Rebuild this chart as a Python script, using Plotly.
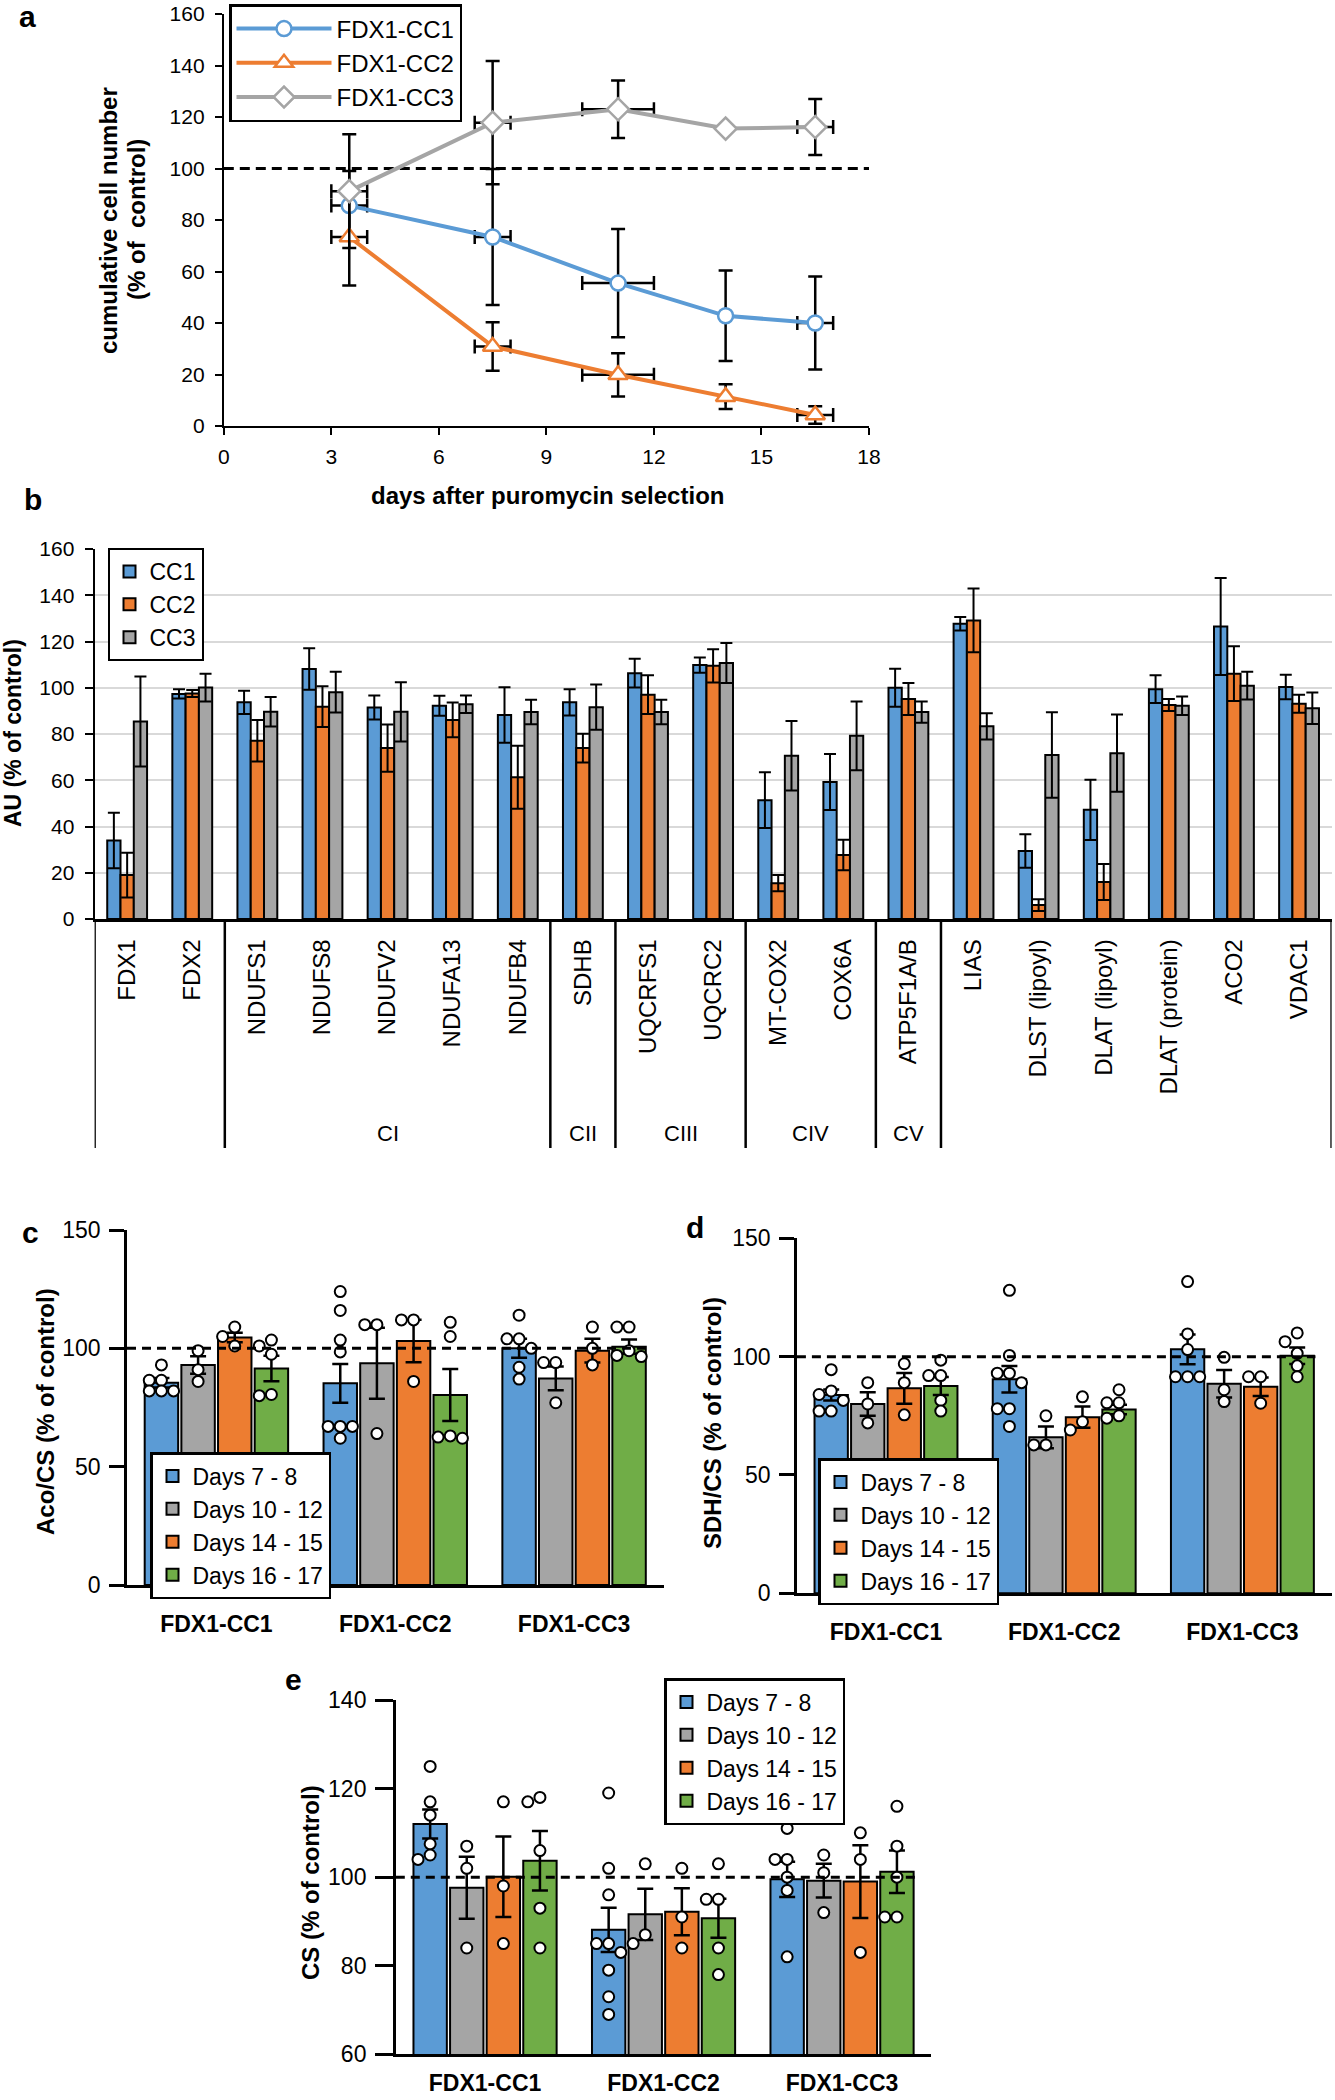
import plotly.graph_objects as go

W, H = 1335, 2100
FONT = "Liberation Sans, Arial, Helvetica, sans-serif"
BLUE, ORANGE, GRAY, GREEN = "#5B9BD5", "#ED7D31", "#A5A5A5", "#70AD47"

# ---------------- Panel a: cumulative cell number ----------------
days = [3.5, 7.5, 11, 14, 16.5]
days_err = [0.5, 0.5, 1.0, 0.0, 0.5]
a_names = ["FDX1-CC1", "FDX1-CC2", "FDX1-CC3"]
a_cc1 = [85.6, 73.4, 55.5, 42.8, 40.0]
a_cc1_err = [13.4, 26.4, 21.0, 17.6, 18.1]
a_cc2 = [73.4, 30.9, 19.9, 11.4, 4.3]
a_cc2_err = [18.8, 9.4, 8.4, 4.8, 3.4]
a_cc3 = [91.2, 117.8, 123.0, 115.5, 116.1]
a_cc3_err = [22.1, 23.9, 11.2, 0.0, 10.9]

# ---------------- Panel b: protein levels ----------------
genes = ["FDX1", "FDX2", "NDUFS1", "NDUFS8", "NDUFV2", "NDUFA13", "NDUFB4", "SDHB",
         "UQCRFS1", "UQCRC2", "MT-COX2", "COX6A", "ATP5F1A/B", "LIAS", "DLST (lipoyl)",
         "DLAT (lipoyl)", "DLAT (protein)", "ACO2", "VDAC1"]
complexes = ["", "", "CI", "CI", "CI", "CI", "CI", "CII", "CIII", "CIII", "CIV", "CIV",
             "CV", "", "", "", "", "", ""]
b_names = ["CC1", "CC2", "CC3"]
b_cc1 = [33.9, 97.3, 93.7, 108.1, 91.5, 92.2, 88.2, 93.7, 106.3, 109.8, 51.4, 59.2, 100.0,
         127.7, 29.4, 47.2, 99.4, 126.5, 100.3]
b_cc1_err = [12.0, 2.0, 5.0, 9.0, 5.2, 4.3, 12.0, 5.7, 6.2, 3.3, 12.1, 12.1, 8.2, 2.9, 7.2,
             13.0, 6.0, 21.0, 5.3]
b_cc2 = [19.0, 97.5, 77.1, 91.8, 73.9, 86.1, 61.3, 73.9, 97.0, 109.5, 15.5, 27.7, 95.1,
         129.1, 6.0, 16.0, 92.5, 106.1, 93.1]
b_cc2_err = [9.7, 1.5, 9.0, 8.8, 10.2, 7.5, 13.6, 6.2, 8.4, 7.2, 3.5, 6.6, 6.9, 13.8, 2.5,
             7.8, 2.6, 11.8, 3.9]
b_cc3 = [85.4, 100.1, 89.6, 98.1, 89.6, 92.9, 89.5, 91.6, 89.5, 110.7, 70.6, 79.2, 89.5,
         83.3, 70.9, 71.7, 92.2, 100.9, 91.1]
b_cc3_err = [19.5, 6.0, 6.4, 8.8, 12.8, 3.8, 5.3, 9.8, 5.3, 8.6, 15.0, 14.9, 4.6, 5.7, 18.5,
             16.7, 4.0, 6.0, 6.8]

# ---------------- Panels c-e: enzyme activities ----------------
groups = ["FDX1-CC1", "FDX1-CC2", "FDX1-CC3"]
periods = ["Days 7 - 8", "Days 10 - 12", "Days 14 - 15", "Days 16 - 17"]

# c: Aco/CS  (rows = periods, columns = groups)
aco_mean = [[85.5, 85.2, 100.0], [93.0, 93.7, 87.3], [104.6, 103.1, 99.0], [91.5, 80.3, 100.7]]
aco_err = [[2.0, 8.2, 4.0], [3.7, 15.0, 5.0], [2.0, 9.0, 5.0], [5.4, 11.0, 3.0]]
aco_pts = [
    [[93, 86.5, 86.5, 82, 82, 82], [124, 116, 103.5, 98.5, 67, 67, 67, 62], [114, 104, 104, 100, 92, 87]],
    [[99, 91, 86], [110, 110, 64], [94, 94, 77]],
    [[109, 105, 101], [112, 112, 86], [109, 100, 93]],
    [[103.5, 101, 97.5, 80.5, 80], [111, 105, 63, 62.5, 62], [109, 109, 99, 97, 96.5]],
]
# d: SDH/CS
sdh_mean = [[83.8, 90.4, 103.1], [80.0, 65.9, 88.5], [86.6, 74.4, 87.3], [87.6, 77.7, 100.4]]
sdh_err = [[2.3, 5.6, 6.3], [5.0, 4.6, 5.8], [6.5, 4.5, 3.9], [3.8, 2.0, 3.5]]
sdh_pts = [
    [[94.5, 85.5, 84, 81.5, 77, 77], [128, 100.5, 93, 93, 89, 78, 78, 70.5], [131.7, 109.6, 103, 91.5, 91.5, 91.5]],
    [[89, 80, 72], [75, 62.7, 62.7], [99.7, 86, 81]],
    [[97, 89, 75.4], [83, 72.5, 69], [91.5, 91.5, 80.3]],
    [[98.5, 92, 92, 81.5, 77], [86, 80.5, 80.5, 75, 74], [110, 106.3, 101.4, 96.1, 91.5]],
]
# e: CS
cs_mean = [[112.0, 88.1, 99.5], [97.6, 91.6, 99.2], [100.1, 92.2, 99.0], [103.7, 90.7, 101.2]]
cs_err = [[3.3, 5.0, 4.0], [7.0, 5.8, 3.8], [9.1, 5.3, 8.2], [6.7, 4.4, 4.8]]
cs_pts = [
    [[125, 117, 114, 107.5, 105, 104], [119, 102, 96, 85, 85, 83, 79, 73, 69], [111, 104, 104, 100, 97, 82]],
    [[107, 102, 84], [103, 87, 85], [105, 101, 92]],
    [[117, 98, 85], [102, 91, 84], [110, 104, 83]],
    [[118, 117, 106, 93, 84], [103, 95, 95, 84, 78], [116, 107, 100, 91, 91]],
]


def X(p):
    return p / W


def Y(p):
    return 1 - p / H


fig = go.Figure()

# ---- panel a traces
for name, yv, ye, col, sym, sz in zip(
        a_names, [a_cc1, a_cc2, a_cc3], [a_cc1_err, a_cc2_err, a_cc3_err],
        [BLUE, ORANGE, GRAY], ["circle", "triangle-up", "diamond"], [15, 17, 17]):
    fig.add_trace(go.Scatter(
        x=days, y=yv, name=name, mode="lines+markers",
        line=dict(color=col, width=4),
        marker=dict(symbol=sym, size=sz, color="white", line=dict(color=col, width=2.5)),
        error_y=dict(type="data", array=ye, color="black", thickness=2.5, width=7),
        error_x=dict(type="data", array=days_err, color="black", thickness=2.5, width=7),
        xaxis="x", yaxis="y", legend="legend", cliponaxis=False))

# ---- panel b traces
bw = 0.204
for i, (name, yv, ye, col) in enumerate(zip(
        b_names, [b_cc1, b_cc2, b_cc3], [b_cc1_err, b_cc2_err, b_cc3_err], [BLUE, ORANGE, GRAY])):
    fig.add_trace(go.Bar(
        x=list(range(len(genes))), y=yv, name=name, width=bw, offset=(i - 1.5) * bw,
        marker=dict(color=col, line=dict(color="black", width=2)),
        error_y=dict(type="data", array=ye, color="black", thickness=2, width=6),
        xaxis="x2", yaxis="y2", legend="legend2"))

# ---- panels c-e traces
PCOL = [BLUE, GRAY, ORANGE, GREEN]
pw, pstep, jit = 0.187, 0.205, 0.068


def swarm(vals, thr):
    offs = []
    order = [0, -1, 1, -2, 2, -3, 3]
    for i, v in enumerate(vals):
        used = {offs[j] for j in range(i) if abs(vals[j] - v) < thr}
        for o in order:
            if o not in used:
                offs.append(o)
                break
    return offs


def activity_panel(n, means, errs, pts, thr):
    for i, per in enumerate(periods):
        c = (i - 1.5) * pstep
        fig.add_trace(go.Bar(
            x=list(range(len(groups))), y=means[i], name=per, width=pw, offset=c - pw / 2,
            marker=dict(color=PCOL[i], line=dict(color="black", width=2)),
            error_y=dict(type="data", array=errs[i], color="black", thickness=2.5, width=8),
            xaxis=f"x{n}", yaxis=f"y{n}", legend=f"legend{n}"))
    for i, per in enumerate(periods):
        c = (i - 1.5) * pstep
        xs, ys = [], []
        for g, vals in enumerate(pts[i]):
            for v, o in zip(vals, swarm(vals, thr)):
                xs.append(g + c + o * jit)
                ys.append(v)
        fig.add_trace(go.Scatter(
            x=xs, y=ys, mode="markers", showlegend=False, cliponaxis=False,
            marker=dict(symbol="circle", size=11, color="white", line=dict(color="black", width=2)),
            xaxis=f"x{n}", yaxis=f"y{n}"))


activity_panel(3, aco_mean, aco_err, aco_pts, 4.5)
activity_panel(4, sdh_mean, sdh_err, sdh_pts, 4.5)
activity_panel(5, cs_mean, cs_err, cs_pts, 2.4)

# ---------------- layout ----------------
base = dict(showline=True, linecolor="black", zeroline=False, showgrid=False, color="black")

shapes = []
ann = []


def text(t, x, y, size, bold=True, angle=0, xref="paper"):
    ann.append(dict(text=f"<b>{t}</b>" if bold else t, x=x if xref != "paper" else X(x), y=Y(y),
                    xref=xref, yref="paper", xanchor="center", yanchor="middle",
                    showarrow=False, textangle=angle,
                    font=dict(size=size, color="black", family=FONT)))


# panel letters
text("a", 27, 16, 30)
text("b", 33, 499, 30)
text("c", 31, 1232, 30)
text("d", 695, 1227, 30)
text("e", 293, 1679, 30)

# axis titles
text("cumulative cell number", 109, 220, 24, angle=-90)
text("(% of  control)", 137, 220, 24, angle=-90)
text("days after puromycin selection", 547, 496, 24)
text("AU (% of control)", 13, 733, 23, angle=-90)
text("Aco/CS (% of control)", 45, 1412, 24, angle=-90)
text("SDH/CS (% of control)", 712, 1423, 24, angle=-90)
text("CS (% of control)", 311, 1883, 24, angle=-90)

# complex group labels & separators in panel b
names_seen = []
for lab in complexes:
    if lab and lab not in names_seen:
        names_seen.append(lab)
for lab in names_seen:
    idx = [k for k, c in enumerate(complexes) if c == lab]
    text(lab, sum(idx) / len(idx), 1133, 22, bold=False, xref="x2")
bounds = [-0.5] + [k - 0.5 for k in range(1, len(complexes)) if complexes[k] != complexes[k - 1]] \
    + [len(complexes) - 0.5]
for b in bounds:
    shapes.append(dict(type="line", xref="x2", yref="paper", x0=b, x1=b, y0=Y(919), y1=Y(1148),
                       line=dict(color="black", width=2.5)))

# dashed 100% reference lines
shapes.append(dict(type="line", xref="x domain", yref="y", x0=0, x1=1, y0=100, y1=100,
                   line=dict(color="black", width=3, dash="10px,6px"), layer="below"))
for n in [3, 4, 5]:
    shapes.append(dict(type="line", xref=f"x{n} domain", yref=f"y{n}", x0=0, x1=0.97, y0=100, y1=100,
                       line=dict(color="black", width=3, dash="9px,6px"), layer="above"))


def legend_box(x, y, size, bw=2.5, iw=30):
    return dict(x=X(x), y=Y(y), xanchor="left", yanchor="top", bgcolor="white",
                bordercolor="black", borderwidth=bw, font=dict(size=size, color="black", family=FONT),
                tracegroupgap=0, itemwidth=iw)


fig.update_layout(
    width=W, height=H, autosize=False, margin=dict(l=0, r=0, t=0, b=0, autoexpand=False),
    paper_bgcolor="white", plot_bgcolor="white",
    font=dict(family=FONT, color="black", size=20),
    barmode="overlay", showlegend=True,
    # panel a
    xaxis=dict(domain=[X(223.8), X(869)], range=[0, 18], tick0=0, dtick=3, ticks="outside",
               ticklen=7, tickwidth=2, linewidth=2, tickfont=dict(size=21), anchor="y",
               ticklabelstandoff=4, automargin=False, **base),
    yaxis=dict(domain=[Y(426), Y(14)], range=[0, 160], dtick=20, ticks="outside", ticklen=7,
               tickwidth=2, linewidth=2, tickfont=dict(size=21), anchor="x",
               ticklabelstandoff=6, automargin=False, **base),
    # panel b
    xaxis2=dict(domain=[X(94.6), X(1331.6)], range=[-0.5, len(genes) - 0.5],
                tickvals=list(range(len(genes))), ticktext=genes, tickangle=-90, ticks="",
                linewidth=2.5, tickfont=dict(size=24), anchor="y2", ticklabelstandoff=8,
                automargin=False, **base),
    yaxis2=dict(domain=[Y(919), Y(549)], range=[0, 160], dtick=20, ticks="outside", ticklen=8,
                tickwidth=2, linewidth=2, tickfont=dict(size=21), anchor="x2",
                ticklabelstandoff=6, showline=True, linecolor="black", zeroline=False,
                showgrid=True, gridcolor="#D9D9D9", gridwidth=2, color="black", automargin=False),
    # panel c
    xaxis3=dict(domain=[X(127), X(663.5)], range=[-0.5, 2.5], tickvals=[0, 1, 2],
                ticktext=[f"<b>{g}</b>" for g in groups], ticks="", linewidth=2.5,
                tickfont=dict(size=23), anchor="y3", ticklabelstandoff=17, automargin=False, **base),
    yaxis3=dict(domain=[Y(1585), Y(1230)], range=[0, 150], dtick=50, ticks="outside",
                ticklen=15, tickwidth=2.5, linewidth=2.5, tickfont=dict(size=23), anchor="x3",
                ticklabelstandoff=4, automargin=False, **base),
    # panel d
    xaxis4=dict(domain=[X(796.9), X(1331.5)], range=[-0.5, 2.5], tickvals=[0, 1, 2],
                ticktext=[f"<b>{g}</b>" for g in groups], ticks="", linewidth=2.5,
                tickfont=dict(size=23), anchor="y4", ticklabelstandoff=16, automargin=False, **base),
    yaxis4=dict(domain=[Y(1593.3), Y(1238.3)], range=[0, 150], dtick=50, ticks="outside",
                ticklen=15, tickwidth=2.5, linewidth=2.5, tickfont=dict(size=23), anchor="x4",
                ticklabelstandoff=4, automargin=False, **base),
    # panel e
    xaxis5=dict(domain=[X(395.8), X(931.3)], range=[-0.5, 2.5], tickvals=[0, 1, 2],
                ticktext=[f"<b>{g}</b>" for g in groups], ticks="", linewidth=2.5,
                tickfont=dict(size=23), anchor="y5", ticklabelstandoff=6, automargin=False, **base),
    yaxis5=dict(domain=[Y(2054.3), Y(1700)], range=[60, 140], dtick=20, ticks="outside",
                ticklen=18, tickwidth=2.5, linewidth=2.5, tickfont=dict(size=23), anchor="x5",
                ticklabelstandoff=4, automargin=False, **base),
    legend=legend_box(229, 4, 24, iw=95),
    legend2=legend_box(107.5, 548, 23, 2),
    legend3=legend_box(150, 1452, 23),
    legend4=legend_box(818, 1458, 23),
    legend5=legend_box(664, 1678, 23),
    shapes=shapes,
    annotations=ann,
)

fig.write_html("out.html", config={"displayModeBar": False},
               post_script="document.body.style.margin='0px';")
